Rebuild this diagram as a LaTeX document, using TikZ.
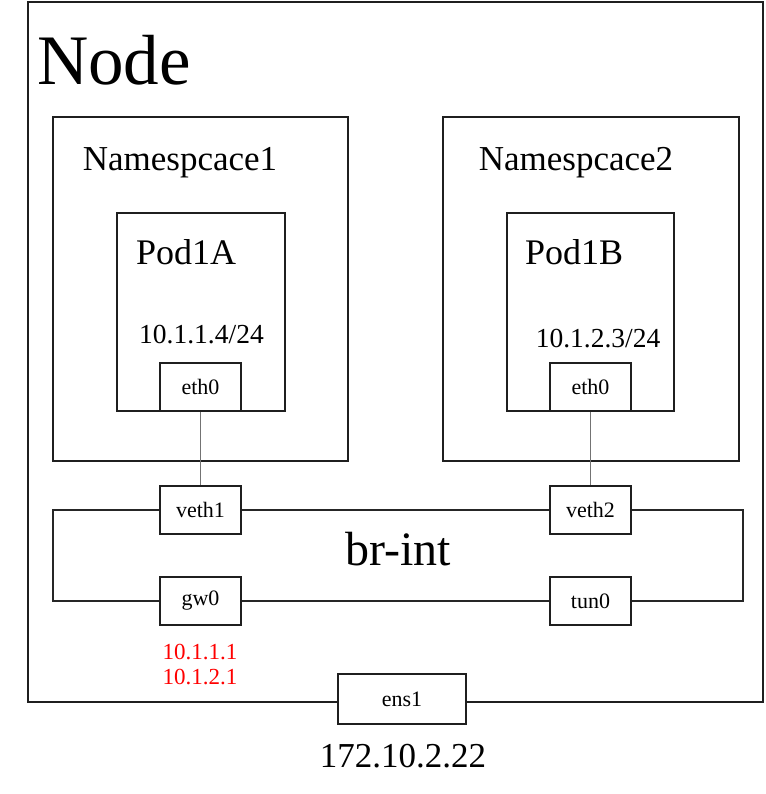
\documentclass[tikz,border=0pt]{standalone}
\usepackage{fontspec}
\setmainfont{Liberation Serif}
\begin{document}
\begin{tikzpicture}[x=1pt,y=-1pt,
  frame/.style={draw=black!88, line width=1.5pt, fill=white, inner sep=0pt, rectangle},
  port/.style={frame, minimum width=81pt, minimum height=48pt, font=\fontsize{22}{26}\selectfont},
  wire/.style={draw=black!85, line width=1.4pt},
  link/.style={draw=black!55, line width=0.8pt},
  lbl/.style={inner sep=0pt}
]
\useasboundingbox (0,0) rectangle (765,794);
% outer node
\node[frame, minimum width=735pt, minimum height=700pt] (nodebox) at (395.5,352) {};
\node[lbl, anchor=base west, font=\fontsize{71}{85}\selectfont] (nodelbl) at (37,85) {Node};
% namespaces
\node[frame, minimum width=295pt, minimum height=344pt] (ns1) at (200.5,289) {};
\node[frame, minimum width=296pt, minimum height=344pt] (ns2) at (591,289) {};
\node[lbl, anchor=base, font=\fontsize{35}{42}\selectfont] (ns1lbl) at (180,171) {Namespcace1};
\node[lbl, anchor=base, font=\fontsize{35}{42}\selectfont] (ns2lbl) at (576,171) {Namespcace2};
% pods
\node[frame, minimum width=168pt, minimum height=198pt] (poda) at (201,312) {};
\node[frame, minimum width=167pt, minimum height=198pt] (podb) at (590.5,312) {};
\node[lbl, anchor=base west, font=\fontsize{36}{42}\selectfont] (podalbl) at (136,264) {Pod1A};
\node[lbl, anchor=base west, font=\fontsize{36}{42}\selectfont] (podblbl) at (525,264) {Pod1B};
\node[lbl, anchor=base, font=\fontsize{27.5}{32}\selectfont] (ipa) at (201.5,343) {10.1.1.4/24};
\node[lbl, anchor=base, font=\fontsize{27.5}{32}\selectfont] (ipb) at (598,347) {10.1.2.3/24};
% ports
\node[port] (eth0a) at (200.5,387) {eth0};
\node[port] (eth0b) at (590.5,387) {eth0};
\node[port] (veth1) at (200.5,510) {veth1};
\node[port] (veth2) at (590.5,510) {veth2};
\node[port] (gw0) at (200.5,601) {gw0};
\node[port] (tun0) at (590.5,601) {tun0};
\node[lbl, anchor=base, font=\fontsize{48}{56}\selectfont] (brint) at (398,565) {br-int};
\node[lbl, anchor=base, text=red, font=\fontsize{23}{27}\selectfont] (gwip1) at (200,659) {10.1.1.1};
\node[lbl, anchor=base, text=red, font=\fontsize{23}{27}\selectfont] (gwip2) at (200,684) {10.1.2.1};
% links
\coordinate (lx) at (53,0);
\coordinate (rx) at (743,0);
\draw[link] (eth0a.south) -- (veth1.north);
\draw[link] (eth0b.south) -- (veth2.north);
\draw[wire] (veth1.east) -- (veth2.west);
\draw[wire] (gw0.east) -- (tun0.west);
\draw[wire] (veth1.west) -- (veth1.west -| lx) -- (gw0.west -| lx) -- (gw0.west);
\draw[wire] (veth2.east) -- (veth2.east -| rx) -- (tun0.east -| rx) -- (tun0.east);
% ens1
\node[port, minimum width=128pt, minimum height=50pt] (ens1) at (402,699) {ens1};
\node[lbl, anchor=base, font=\fontsize{35}{42}\selectfont] (addr) at (403,767) {172.10.2.22};
\end{tikzpicture}
\end{document}
